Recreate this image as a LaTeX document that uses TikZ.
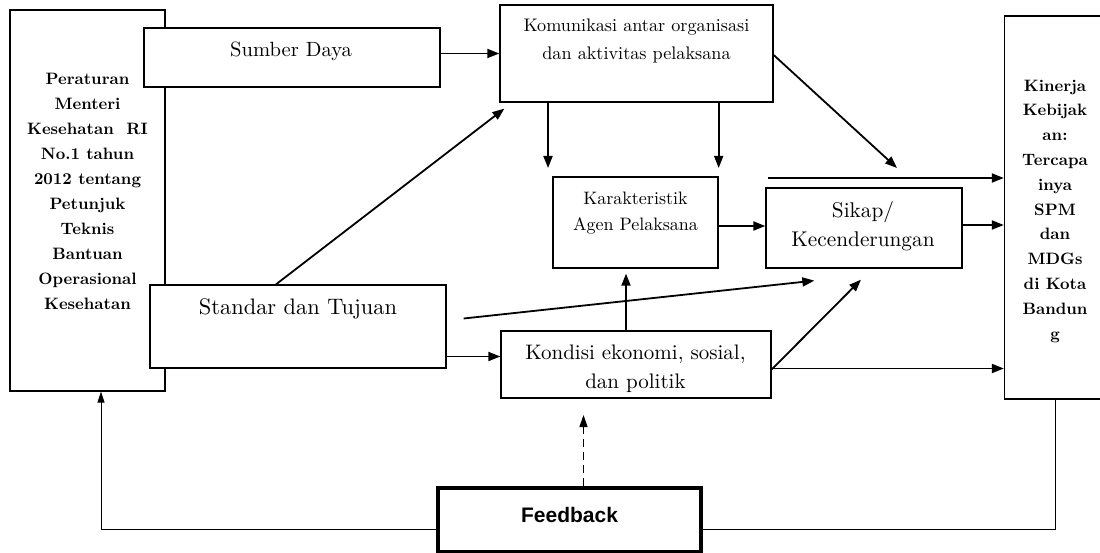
\documentclass[tikz,border=0pt]{standalone}
\usepackage{fontspec}
\setmainfont{lmroman10-regular}[Extension=.otf, BoldFont=lmroman10-bold]
\newfontfamily\fbfont{Liberation Sans}
\usetikzlibrary{positioning, arrows.meta}

\begin{document}
\begin{tikzpicture}
    [
        x=1pt, y=-1pt,
        box_node/.style={rectangle, draw=black, fill=white, line width=1.3pt, inner sep=0pt},
        txt_node/.style={align=center, inner sep=0pt, anchor=base},
        bold_node/.style={align=center, font=\fontsize{16.5}{25}\selectfont\bfseries},
        main_arrow/.style={-{Triangle[length=12pt, width=9pt]}, line width=1.8pt, color=black},
        loop_line/.style={line width=1pt, color=black},
    ]
        \useasboundingbox (0,0) rectangle (1100,553);
        \node[box_node, minimum width=155pt, minimum height=381pt] (peraturan) at (87.5,200.5) {};
        \node[bold_node] (peraturan_txt) at (87.5,191) {Peraturan\\Menteri\\Kesehatan\ \ RI\\No.1 tahun\\2012 tentang\\Petunjuk\\Teknis\\Bantuan\\Operasional\\Kesehatan};
        \node[box_node, minimum width=101pt, minimum height=383pt] (kinerja) at (1055,207.5) {};
        \node[bold_node, font=\fontsize{16.5}{24.8}\selectfont\bfseries] (kinerja_txt) at (1055,211) {Kinerja\\Kebijak\\an:\\Tercapa\\inya\\SPM\\dan\\MDGs\\di Kota\\Bandun\\g};
        \node[box_node, minimum width=296pt, minimum height=59pt] (sumber) at (292,57.5) {};
        \node[txt_node, font=\fontsize{20.6}{26}\selectfont] (sumber_txt) at (291,57) {Sumber Daya};
        \node[box_node, minimum width=273pt, minimum height=97pt] (komunikasi) at (636.5,53.5) {};
        \node[txt_node, font=\fontsize{18.2}{28}\selectfont] (komunikasi_txt) at (636.5,60) {Komunikasi antar organisasi\\dan aktivitas pelaksana};
        \node[box_node, minimum width=165pt, minimum height=91pt] (karakteristik) at (635.5,222.5) {};
        \node[txt_node, font=\fontsize{18}{26}\selectfont] (karakteristik_txt) at (635.5,231) {Karakteristik\\Agen Pelaksana};
        \node[box_node, minimum width=196pt, minimum height=80pt] (sikap) at (864,228) {};
        \node[txt_node, font=\fontsize{21.3}{29}\selectfont] (sikap_txt) at (863,247) {Sikap/\\Kecenderungan};
        \node[box_node, minimum width=296pt, minimum height=83pt] (standar) at (298,326.5) {};
        \node[txt_node, font=\fontsize{22.4}{28}\selectfont] (standar_txt) at (298,315) {Standar dan Tujuan};
        \node[box_node, minimum width=270pt, minimum height=67pt] (kondisi) at (636,364.5) {};
        \node[txt_node, font=\fontsize{21}{29}\selectfont] (kondisi_txt) at (635.5,388) {Kondisi ekonomi, sosial,\\dan politik};
        \node[box_node, line width=3.5pt, minimum width=263pt, minimum height=64pt] (feedback) at (569.5,520) {};
        \node[txt_node, font=\fbfont\bfseries\fontsize{21}{25}\selectfont] (feedback_txt) at (569.5,522) {Feedback};
        \coordinate (kom_left) at (548,168);
        \coordinate (kom_diag) at (897,168);
        \coordinate (top_line) at (768,178);
        \coordinate (dash_end) at (583.5,415);
        \draw[main_arrow] (sumber.east |- komunikasi.west) -- (komunikasi.west);
        \draw[main_arrow] (kom_left |- komunikasi.south) -- (kom_left);
        \draw[main_arrow] (karakteristik.east |- komunikasi.south) -- (karakteristik.east |- kom_left);
        \draw[main_arrow] ([yshift=-1.5pt]komunikasi.east) -- (kom_diag);
        \draw[main_arrow] (top_line) -- (top_line -| kinerja.west);
        \draw[main_arrow] ([yshift=-3.5pt]karakteristik.east) -- ([yshift=-3.5pt]karakteristik.east -| sikap.west);
        \draw[main_arrow] ([yshift=3pt]sikap.east) -- ([yshift=3pt]sikap.east -| kinerja.west);
        \draw[main_arrow] ([xshift=-22pt]standar.north) -- ([xshift=5pt, yshift=-6pt]komunikasi.south west);
        \draw[main_arrow] ([yshift=-30pt]standar.east) -- ([yshift=-30pt]standar.east -| kondisi.west);
        \draw[main_arrow] ([xshift=17pt, yshift=8pt]standar.east) -- ([xshift=49pt, yshift=-12pt]sikap.south west);
        \draw[main_arrow] ([xshift=-10pt]kondisi.north) -- ([xshift=-9.5pt, yshift=-5pt]karakteristik.south);
        \draw[main_arrow] ([yshift=-5pt]kondisi.east) -- ([xshift=-3pt, yshift=-11pt]sikap.south);
        \draw[main_arrow] ([yshift=-4pt]kondisi.east) -- ([yshift=-4pt]kondisi.east -| kinerja.west);
        \draw[-{Triangle[length=12pt, width=8pt]}, line width=1.2pt, dash pattern=on 8pt off 5pt] (dash_end |- feedback.north) -- (dash_end);
        \draw[loop_line] (kinerja.south) |- ([yshift=-9pt]feedback.east);
        \draw[loop_line, -{Triangle[length=11pt, width=7pt]}] ([yshift=-9pt]feedback.west) -| ([xshift=13.5pt]peraturan.south);
    \end{tikzpicture}
\end{document}
